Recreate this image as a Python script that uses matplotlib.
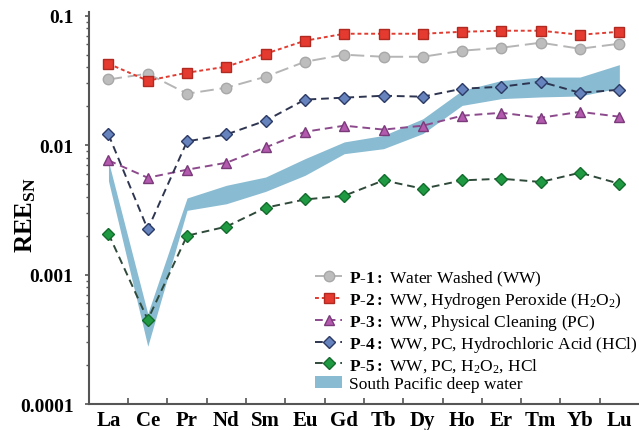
import matplotlib
matplotlib.use("Agg")
import matplotlib.pyplot as plt
from matplotlib.ticker import FixedLocator, NullFormatter, LogLocator
from matplotlib.lines import Line2D
from matplotlib.patches import Patch

plt.rcParams['font.family'] = 'Liberation Serif'
plt.rcParams['mathtext.fontset'] = 'custom'
plt.rcParams['mathtext.rm'] = 'Liberation Serif'
plt.rcParams['mathtext.bf'] = 'Liberation Serif:bold'
plt.rcParams['mathtext.it'] = 'Liberation Serif:italic'

# Elementos de tierras raras
elementos = ["La", "Ce", "Pr", "Nd", "Sm", "Eu", "Gd", "Tb", "Dy", "Ho", "Er", "Tm", "Yb", "Lu"]

# Valores normalizados
p1 = [0.0322, 0.0357, 0.0250, 0.0278, 0.0338, 0.0441, 0.0500, 0.0482, 0.0482, 0.0537, 0.0566, 0.0619, 0.0556, 0.0608]
p2 = [0.0426, 0.0315, 0.0363, 0.0404, 0.0509, 0.0641, 0.0726, 0.0726, 0.0726, 0.0752, 0.0766, 0.0766, 0.0713, 0.0752]
p3 = [0.00763, 0.00561, 0.00647, 0.00732, 0.00962, 0.0127, 0.01415, 0.0132, 0.01415, 0.0169, 0.0178, 0.0163, 0.0181, 0.0166]
p4 = [0.0121, 0.00224, 0.0107, 0.0121, 0.01547, 0.0225, 0.0233, 0.0241, 0.0237, 0.0273, 0.0283, 0.0309, 0.0254, 0.0268]
p5 = [0.00207, 0.000449, 0.00200, 0.00235, 0.00329, 0.00381, 0.00407, 0.00535, 0.00461, 0.00535, 0.00551, 0.00520, 0.00613, 0.00504]

# Banda del agua profunda del Pacífico Sur
banda_sup = [0.0075, 0.00050, 0.00391, 0.0049, 0.00568, 0.00787, 0.0106, 0.0119, 0.0160, 0.0265, 0.0316, 0.0336, 0.0336, 0.0419]
banda_inf = [0.0053, 0.00028, 0.00314, 0.00353, 0.00440, 0.00585, 0.00860, 0.0094, 0.0123, 0.0203, 0.0229, 0.0236, 0.0240, 0.0277]

etiquetas = [
    r"$\mathbf{P}$-$\mathbf{1:}$ Water Washed (WW)",
    r"$\mathbf{P}$-$\mathbf{2:}$ WW, Hydrogen Peroxide (H$_2$O$_2$)",
    r"$\mathbf{P}$-$\mathbf{3:}$ WW, Physical Cleaning (PC)",
    r"$\mathbf{P}$-$\mathbf{4:}$ WW, PC, Hydrochloric Acid (HCl)",
    r"$\mathbf{P}$-$\mathbf{5:}$ WW, PC, H$_2$O$_2$, HCl",
    "South Pacific deep water",
]

x = list(range(len(elementos)))

fig = plt.figure(figsize=(6.39, 4.31), dpi=100)
ax = fig.add_axes([0.139, 0.06, 0.861, 0.91])

color_banda = "#89bbd2"
ax.fill_between(x, banda_inf, banda_sup, color=color_banda, lw=0, zorder=1)

estilos = [
    dict(color="#b5b5b5", ls=(0, (7, 3)), marker="o", mfc="#bdbdbd", mec="#a8a8a8", ms=7.5),
    dict(color="#e03c31", ls=(0, (2, 1.5)), marker="s", mfc="#e53a2f", mec="#b02a22", ms=6.5),
    dict(color="#8c4a8c", ls=(0, (4, 2.5)), marker="^", mfc="#b35aae", mec="#7a3a7a", ms=7.5),
    dict(color="#2e3550", ls=(0, (4, 2.5)), marker="D", mfc="#6683bd", mec="#2c3a66", ms=6.5),
    dict(color="#2f4a3a", ls=(0, (4, 2.5)), marker="D", mfc="#1f9a43", mec="#136b2c", ms=6.5),
]
series = [p1, p2, p3, p4, p5]
handles = []
for datos, est in zip(series, estilos):
    ax.plot(x, datos, lw=1.4, zorder=3, **est)
    handles.append(Line2D([], [], lw=1.4, **est))
handles.append(Patch(color=color_banda, lw=0))

ax.set_yscale("log")
ax.set_ylim(1e-4, 0.107)
ax.set_xlim(-0.5, len(elementos) - 0.5)

ax.set_xticks(x)
ax.set_xticklabels(elementos, fontsize=15, fontweight="bold")
ax.xaxis.set_minor_locator(FixedLocator([i + 0.5 for i in range(len(elementos) - 1)]))
ax.tick_params(axis="x", which="major", length=0, pad=4)
ax.tick_params(axis="x", which="minor", direction="in", length=4, width=1.2, color="#555555")

ax.set_yticks([1e-4, 1e-3, 1e-2, 1e-1])
ax.set_yticklabels(["0.0001", "0.001", "0.01", "0.1"], fontsize=14, fontweight="bold")
ax.yaxis.set_minor_locator(LogLocator(base=10, subs=range(2, 10)))
ax.yaxis.set_minor_formatter(NullFormatter())
ax.tick_params(axis="y", which="major", direction="out", length=3, width=1.2, color="#555555", pad=8)
ax.tick_params(axis="y", which="minor", direction="out", length=2.5, width=1, color="#555555")

for lado in ["top", "right"]:
    ax.spines[lado].set_visible(False)
for lado in ["left", "bottom"]:
    ax.spines[lado].set_linewidth(1.5)
    ax.spines[lado].set_color("#555555")

ax.set_ylabel(r"$\mathbf{REE}_{\mathbf{SN}}$", fontsize=18)
ax.yaxis.set_label_coords(-0.092, 0.485)

leg = ax.legend(handles, etiquetas, loc="lower right", bbox_to_anchor=(1.02, 0.0),
                frameon=False, fontsize=12.5, handlelength=1.6, handletextpad=0.4,
                labelspacing=0.12, borderpad=0.2)

fig.savefig("out.png", dpi=100)
